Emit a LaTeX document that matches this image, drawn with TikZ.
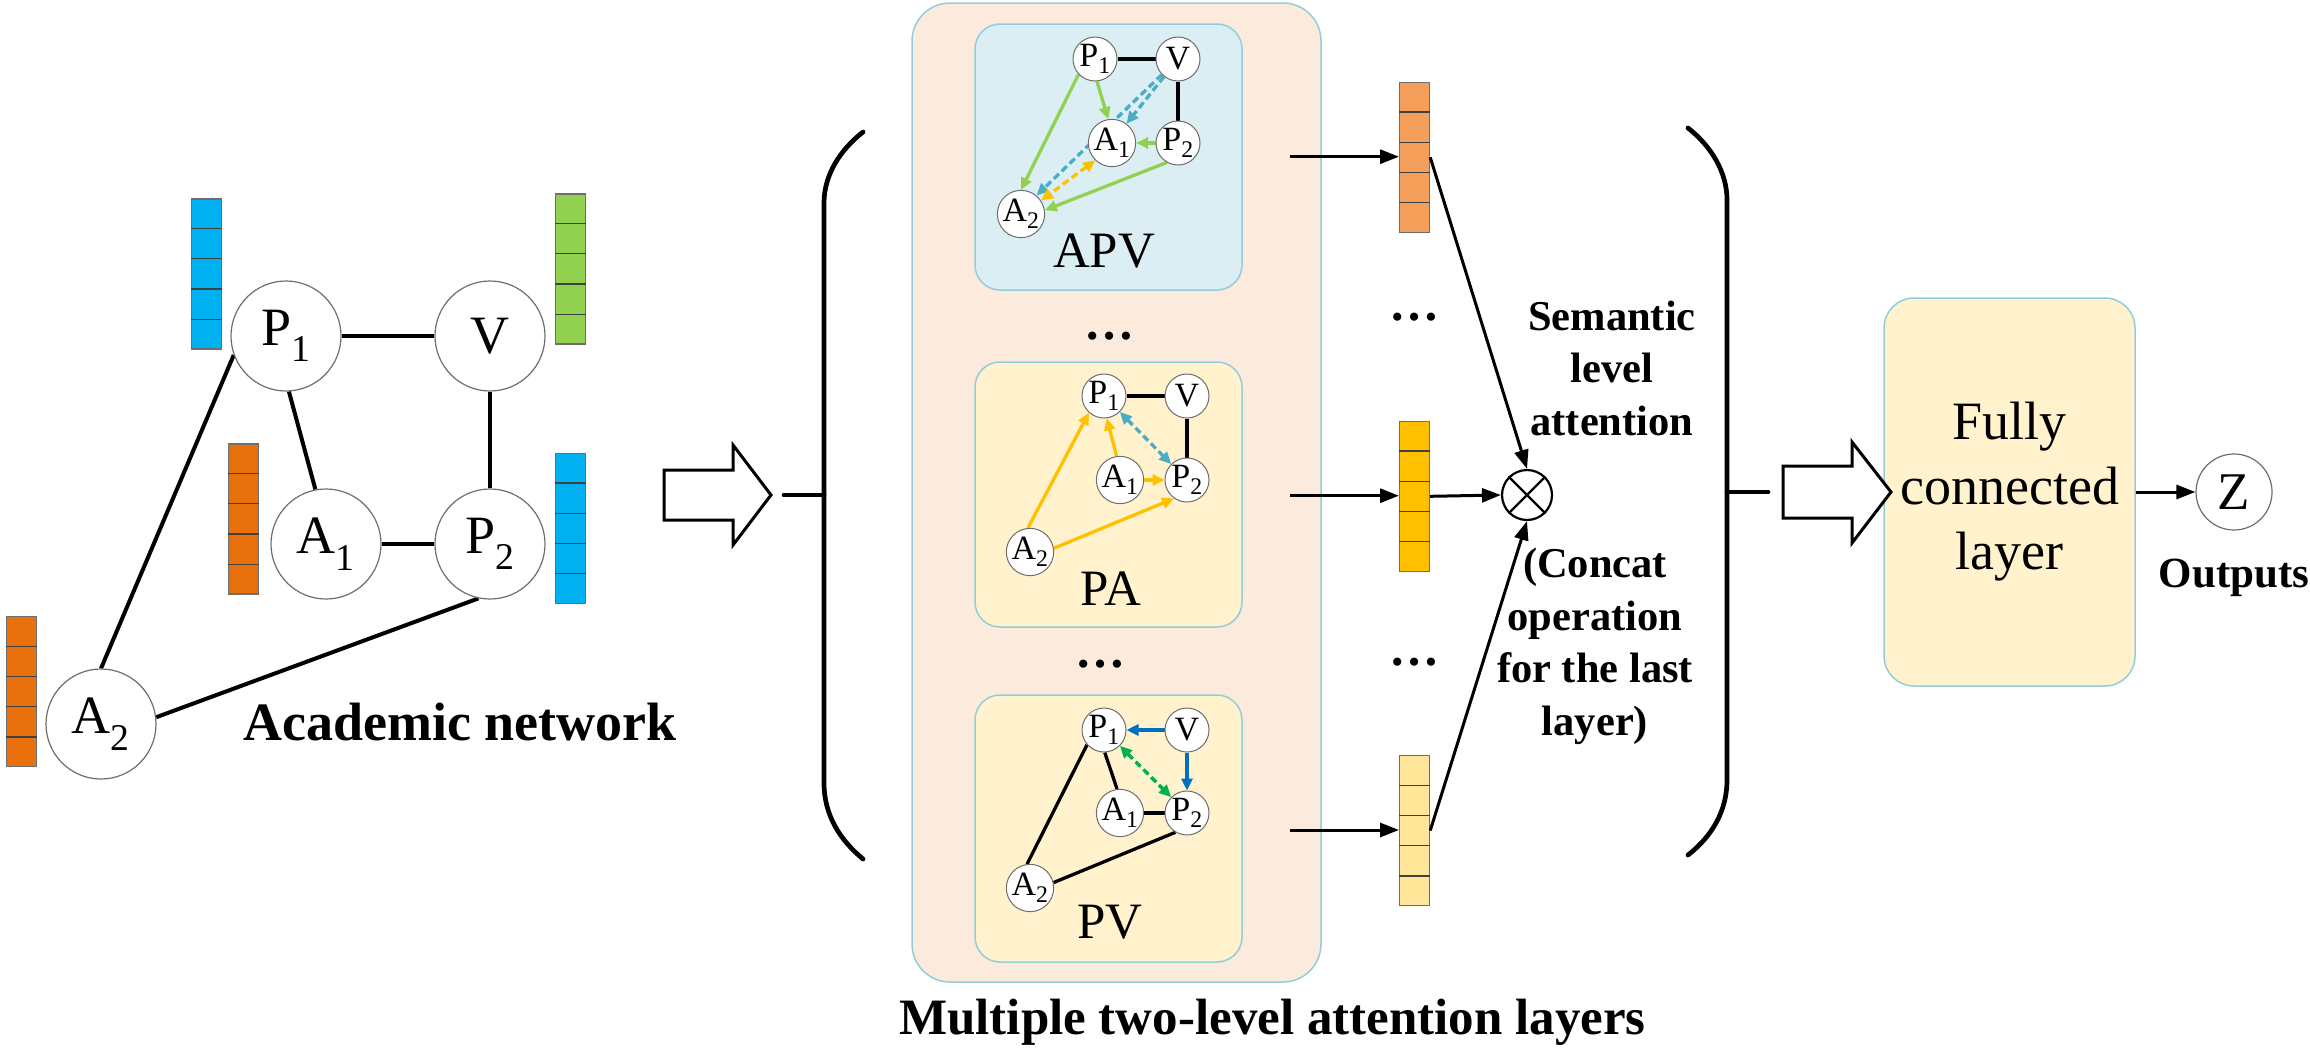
\documentclass[tikz,border=0pt]{standalone}
\usepackage{fontspec}
\setmainfont{Liberation Serif}
\usetikzlibrary{arrows.meta,calc}
\pgfdeclarelayer{back}
\pgfdeclarelayer{edges}
\pgfsetlayers{back,edges,main}
\definecolor{peach}{RGB}{252,234,220}
\definecolor{boxline}{RGB}{146,205,220}
\definecolor{lightblue}{RGB}{218,238,243}
\definecolor{lightyel}{RGB}{255,242,204}
\definecolor{vblue}{RGB}{0,176,240}
\definecolor{vgreen}{RGB}{146,208,80}
\definecolor{vorange}{RGB}{232,113,14}
\definecolor{vorangeb}{RGB}{245,158,90}
\definecolor{vyellow}{RGB}{255,192,0}
\definecolor{vyellowb}{RGB}{255,230,153}
\definecolor{egreen}{RGB}{146,208,80}
\definecolor{eblue}{RGB}{75,172,198}
\definecolor{eorange}{RGB}{255,192,0}
\definecolor{edblue}{RGB}{0,112,192}
\definecolor{edgreen}{RGB}{0,176,80}
\definecolor{nodeline}{RGB}{110,110,110}
\tikzset{
  stip/.tip={Triangle[length=12pt,width=11pt]},
  btip/.tip={Triangle[length=19pt,width=14pt]},
  bignode/.style={circle, draw=nodeline, line width=1.2pt, fill=white, minimum size=110pt, inner sep=0pt, font=\fontsize{54}{60}\selectfont},
  smallnode/.style={circle, draw=nodeline, line width=1pt, fill=white, minimum size=44pt, inner sep=0pt, font=\fontsize{34}{36}\selectfont},
  gedge/.style={line width=4pt},
  sedge/.style={line width=3.3pt},
  sarr/.style={line width=3.3pt, -stip},
  sdarr/.style={line width=3.3pt, dash pattern=on 7pt off 4pt, -stip},
  sddarr/.style={line width=3.3pt, dash pattern=on 7pt off 4pt, stip-stip},
  vecbox/.style={draw=nodeline, line width=1.2pt, minimum width=30pt, minimum height=150pt, inner sep=0pt, anchor=north west},
  cellline/.style={line width=1.2pt, draw=black!75},
  blackarrow/.style={line width=3pt, -btip},
  subbox/.style={draw=boxline, line width=1.5pt, rounded corners=25pt, minimum width=267pt, minimum height=266pt, inner sep=0pt},
  lbl/.style={font=\fontsize{51}{60}\selectfont, anchor=base, inner sep=0pt},
  boldtxt/.style={font=\fontsize{42.5}{52.5}\selectfont\bfseries, align=center, inner sep=0pt},
  dots/.style={font=\fontsize{50}{60}\selectfont\bfseries, inner sep=0pt},
  bracket/.style={line width=4.7pt, line cap=round},
  hollow/.style={line width=3pt, fill=white, line join=miter},
}
\newcommand{\myvecbar}[4]{%
  \node[vecbox, fill=#4] (#1) at (#2,#3) {};
  \foreach \k in {1,...,4}{\draw[cellline] ($(#1.north west)!\k/5!(#1.south west)$) -- ($(#1.north east)!\k/5!(#1.south east)$);}
}
\begin{document}
\begin{tikzpicture}[x=1pt,y=-1pt]
\useasboundingbox (0,0) rectangle (2310,1050);

% ---------------- left academic network ----------------
\node[bignode] (P1) at (286,336) {P\textsubscript{1}};
\node[bignode] (V) at (490,336) {V};
\node[bignode] (A1) at (326,544) {A\textsubscript{1}};
\node[bignode] (P2) at (490,544) {P\textsubscript{2}};
\node[bignode] (A2) at (101,724) {A\textsubscript{2}};
\begin{pgfonlayer}{edges}
\draw[gedge] (P1) -- (V);
\draw[gedge] (V) -- (P2);
\draw[gedge] (P1.273) -- (A1.101);
\draw[gedge] (A1) -- (P2);
\draw[gedge] (P1.200) -- (A2.north);
\draw[gedge] (A2.7) -- (P2.258);
\end{pgfonlayer}
\myvecbar{vP1}{190.7}{198.3}{vblue}
\myvecbar{vV}{555}{193.3}{vgreen}
\myvecbar{vA1}{227.7}{443.3}{vorange}
\myvecbar{vP2}{555}{452.7}{vblue}
\myvecbar{vA2}{6}{616}{vorange}
\node[font=\fontsize{54}{60}\selectfont\bfseries, anchor=base, inner sep=0pt] (acad) at (460,740) {Academic network};

% hollow arrow 1
\draw[hollow] (664,470) -- (733,470) -- (733,445) -- (771,495) -- (733,545) -- (733,520) -- (664,520) -- cycle;

% left bracket
\coordinate (lbt) at (784,495);
\draw[bracket] (863,132) .. controls (840,150) and (824,175) .. (824,203) -- (824,783) .. controls (824,815) and (840,840) .. (863,859);
\draw[bracket] (lbt) -- (824,495);

% ---------------- middle block ----------------
\begin{pgfonlayer}{back}
\node[draw=boxline, line width=1.5pt, fill=peach, rounded corners=38pt, minimum width=409pt, minimum height=979pt, inner sep=0pt] (big) at (1116.5,492.5) {};
\node[subbox, fill=lightblue] (apvbox) at (1108.5,157) {};
\node[subbox, fill=lightyel, minimum height=265pt] (pabox) at (1108.5,494.5) {};
\node[subbox, fill=lightyel, minimum height=267pt] (pvbox) at (1108.5,828.5) {};
\end{pgfonlayer}

% APV
\node[smallnode] (aP1) at (1095,59) {P\textsubscript{1}};
\node[smallnode] (aV) at (1178,59) {V};
\node[smallnode] (aA1) at (1112,143) {A\textsubscript{1}};
\node[smallnode] (aP2) at (1178,143) {P\textsubscript{2}};
\node[smallnode] (aA2) at (1021,214) {A\textsubscript{2}};
\begin{pgfonlayer}{edges}
\draw[sedge] (aP1) -- (aV);
\draw[sedge] (aV) -- (aP2);
\draw[sarr, color=egreen] (aP1.223) -- (aA2.north);
\draw[sarr, color=egreen] (aP1.275) -- (aA1.99);
\draw[sarr, color=egreen] (aP2) -- (aA1);
\draw[sarr, color=egreen] (aP2.240) -- (aA2.9);
\draw[sdarr, color=eblue] (aV) -- (aA1.53);
\draw[sdarr, color=eblue] (aV) -- (aA2.50);
\draw[sddarr, color=eorange] (aA1.226) -- (aA2.34);
\end{pgfonlayer}
\node[lbl] (lapv) at (1104,267) {APV};

% PA
\node[smallnode] (bP1) at (1104,396) {P\textsubscript{1}};
\node[smallnode] (bV) at (1187,396) {V};
\node[smallnode] (bA1) at (1120,480) {A\textsubscript{1}};
\node[smallnode] (bP2) at (1187,480) {P\textsubscript{2}};
\node[smallnode] (bA2) at (1030,552) {A\textsubscript{2}};
\begin{pgfonlayer}{edges}
\draw[sedge] (bP1) -- (bV);
\draw[sedge] (bV) -- (bP2);
\draw[sarr, color=eorange] (bA2.95) -- (bP1.228);
\draw[sarr, color=eorange] (bA1.98) -- (bP1.277);
\draw[sarr, color=eorange] (bA1) -- (bP2);
\draw[sarr, color=eorange] (bA2.9) -- (bP2.235);
\draw[sddarr, color=eblue] (bP1) -- (bP2);
\end{pgfonlayer}
\node[lbl] (lpa) at (1111,605) {PA};

% PV
\node[smallnode] (cP1) at (1104,730) {P\textsubscript{1}};
\node[smallnode] (cV) at (1187,730) {V};
\node[smallnode] (cA1) at (1120,813) {A\textsubscript{1}};
\node[smallnode] (cP2) at (1187,813) {P\textsubscript{2}};
\node[smallnode] (cA2) at (1030,888) {A\textsubscript{2}};
\begin{pgfonlayer}{edges}
\draw[sarr, color=edblue] (cV) -- (cP1);
\draw[sarr, color=edblue] (cV) -- (cP2);
\draw[sddarr, color=edgreen] (cP1) -- (cP2);
\draw[sedge] (cP1.221) -- (cA2.97);
\draw[sedge] (cP1.272) -- (cA1.97);
\draw[sedge] (cA1) -- (cP2);
\draw[sedge] (cA2.13) -- (cP2.239);
\end{pgfonlayer}
\node[lbl] (lpv) at (1110,938) {PV};

\node[dots] (d1) at (1109,336) {…};
\node[dots] (d2) at (1100,664) {…};
\node[font=\fontsize{51}{60}\selectfont\bfseries, anchor=base west, inner sep=0pt] (multi) at (899,1034) {Multiple two-level attention layers};

% ---------------- semantic level ----------------
\myvecbar{ovec}{1399}{81.7}{vorangeb}
\myvecbar{yvec}{1399}{420.7}{vyellow}
\myvecbar{lvec}{1399}{755}{vyellowb}
\coordinate (aout) at (1290,156.7);
\coordinate (pout) at (1290,495.7);
\coordinate (vout) at (1290,830);
\draw[blackarrow] (aout) -- (aout -| ovec.west);
\draw[blackarrow] (pout) -- (pout -| yvec.west);
\draw[blackarrow] (vout) -- (vout -| lvec.west);
\node[circle, draw, line width=2.2pt, minimum size=50pt, inner sep=0pt] (ot) at (1527,495) {};
\draw[line width=2.2pt] (ot.45) -- (ot.225);
\draw[line width=2.2pt] (ot.135) -- (ot.315);
\draw[blackarrow] (ovec.east) -- (ot.north);
\draw[blackarrow] (yvec.east) -- (ot.west);
\draw[blackarrow] (lvec.east) -- (ot.south);
\node[dots] (d3) at (1414,317) {…};
\node[dots] (d4) at (1414,662) {…};
\node[boldtxt, anchor=base] (sem) at (1612,435) {Semantic\\level\\attention};
\node[boldtxt, anchor=base] (cc) at (1595,735) {(Concat\\operation\\for the last\\layer)};

% right bracket
\coordinate (rbt) at (1768,492);
\draw[bracket] (1688,128) .. controls (1711,146) and (1727,172) .. (1727,200) -- (1727,780) .. controls (1727,812) and (1711,837) .. (1688,855);
\draw[bracket] (1727,492) -- (rbt);

% ---------------- fully connected ----------------
\node[draw=boxline, line width=1.5pt, fill=lightyel, rounded corners=30pt, minimum width=251pt, minimum height=388pt, inner sep=0pt, align=center, font=\fontsize{54}{65}\selectfont] (fc) at (2009.5,492) {Fully\\connected\\layer};
\draw[hollow] (1783,466) -- (1852,466) -- (1852,442) -- (1891,492) -- (1852,543) -- (1852,518) -- (1783,518) -- cycle;
\node[circle, draw=nodeline, line width=1.2pt, fill=white, minimum size=76pt, inner sep=0pt, font=\fontsize{53}{60}\selectfont] (Z) at (2234,492) {Z};
\draw[blackarrow] (fc.east) -- (Z.west);
\node[font=\fontsize{43}{50}\selectfont\bfseries, anchor=base, inner sep=0pt] (outl) at (2234,587) {Outputs};
\end{tikzpicture}
\end{document}
